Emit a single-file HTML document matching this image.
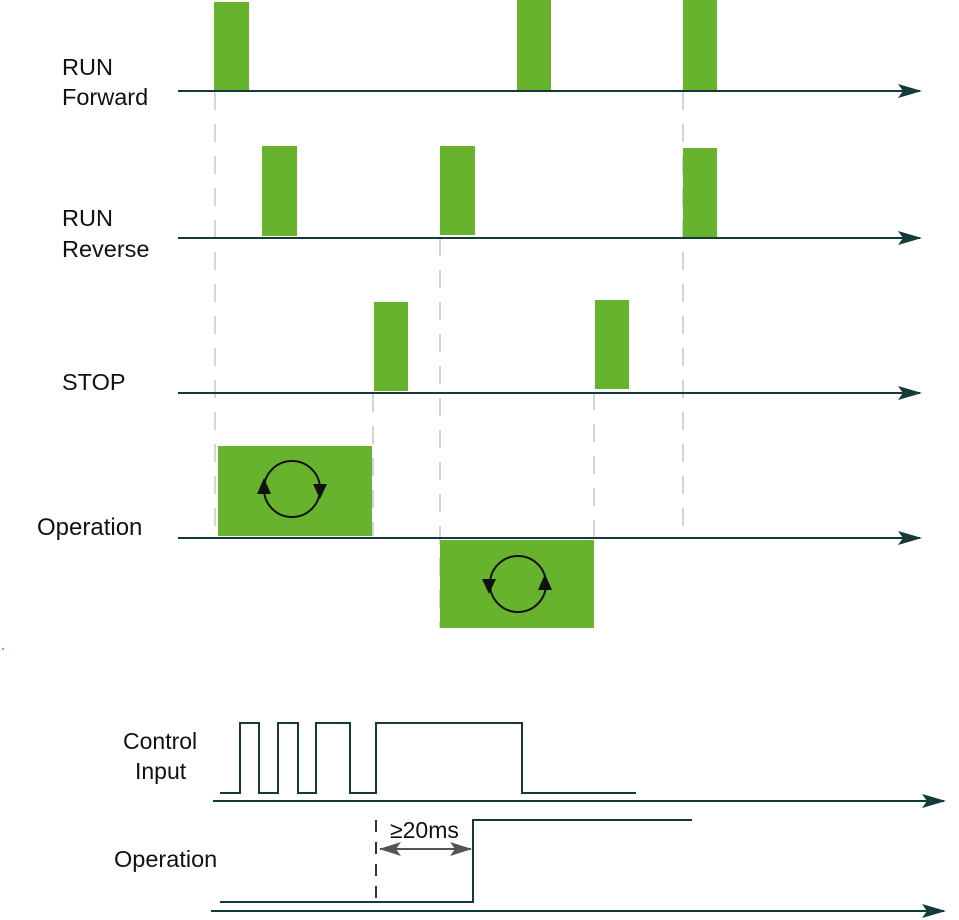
<!DOCTYPE html>
<html><head><meta charset="utf-8"><style>
html,body{margin:0;padding:0;background:#fff;width:959px;height:920px;overflow:hidden}
svg text{font-family:"Liberation Sans",sans-serif;fill:#111}
</style></head><body>
<svg width="959" height="920" viewBox="0 0 959 920" xmlns="http://www.w3.org/2000/svg">
<defs>
<marker id="ah" markerWidth="24" markerHeight="14" refX="22" refY="7" orient="auto" markerUnits="userSpaceOnUse">
<path d="M0,0 L24,7 L0,14 L5,7 Z" fill="#143a3a"/></marker>
<marker id="gs" markerWidth="22" markerHeight="14" refX="21" refY="7" orient="auto" markerUnits="userSpaceOnUse">
<path d="M0,0 L22,7 L0,14 L5,7 Z" fill="#555"/></marker>
<marker id="ge" markerWidth="22" markerHeight="14" refX="1" refY="7" orient="auto" markerUnits="userSpaceOnUse">
<path d="M22,0 L0,7 L22,14 L17,7 Z" fill="#555"/></marker>
</defs>
<g stroke="#d4d4d4" stroke-width="2" stroke-dasharray="18,14" fill="none">
<line x1="215" y1="92" x2="215" y2="536"/>
<line x1="373" y1="394" x2="373" y2="536"/>
<line x1="440" y1="238" x2="440" y2="628"/>
<line x1="594" y1="392" x2="594" y2="540"/>
<line x1="683" y1="92" x2="683" y2="538"/>
</g>
<g fill="#67b32e">
<rect x="214" y="2" width="35" height="88"/>
<rect x="517" y="0" width="34" height="90"/>
<rect x="683" y="0" width="34" height="90"/>
<rect x="262" y="146" width="35" height="90"/>
<rect x="440" y="146" width="35" height="89"/>
<rect x="683" y="148" width="34" height="89"/>
<rect x="374" y="302" width="34" height="89"/>
<rect x="595" y="300" width="34" height="89"/>
<rect x="218" y="446" width="154" height="90"/>
<rect x="440" y="540" width="154" height="88"/>
</g>
<g stroke="#111" stroke-width="2" fill="none">
<circle cx="292" cy="489" r="28"/>
<circle cx="518" cy="584" r="28"/>
</g>
<g fill="#111">
<path d="M257,494 L264,478 L271,494 Z"/>
<path d="M313,484 L327,484 L320,499 Z"/>
<path d="M482,579 L496,579 L489,594 Z"/>
<path d="M538,590 L545,574 L552,590 Z"/>
</g>
<g stroke="#143a3a" stroke-width="2" fill="none" marker-end="url(#ah)">
<line x1="178" y1="91" x2="920" y2="91"/>
<line x1="178" y1="238" x2="920" y2="238"/>
<line x1="178" y1="393" x2="920" y2="393"/>
<line x1="178" y1="538" x2="920" y2="538"/>
<line x1="213" y1="801" x2="944" y2="801"/>
<line x1="211" y1="911" x2="944" y2="911"/>
</g>
<text x="62" y="75" font-size="23.5">RUN</text>
<text x="62" y="105" font-size="23.5">Forward</text>
<text x="62" y="226" font-size="23.5">RUN</text>
<text x="62" y="257" font-size="23.5">Reverse</text>
<text x="62" y="390" font-size="23.5">STOP</text>
<text x="37" y="535" font-size="24">Operation</text>
<circle cx="3" cy="649" r="1.2" fill="#4bc0e0"/>
<g stroke="#143a3a" stroke-width="2" fill="none">
<polyline points="220,793 240,793 240,723 259,723 259,793 278,793 278,723 298,723 298,793 316,793 316,723 350,723 350,793 376,793 376,723 522,723 522,793 636,793"/>
<polyline points="220,902 473,902 473,820 692,820"/>
</g>
<line x1="376" y1="820" x2="376" y2="902" stroke="#333" stroke-width="2" stroke-dasharray="12,10"/>
<line x1="380" y1="849" x2="471" y2="849" stroke="#555" stroke-width="2" marker-start="url(#ge)" marker-end="url(#gs)"/>
<text x="390" y="838" font-size="23">≥20ms</text>
<text x="123" y="749" font-size="23">Control</text>
<text x="135" y="779" font-size="23">Input</text>
<text x="114" y="867" font-size="23.5">Operation</text>
</svg>
</body></html>
